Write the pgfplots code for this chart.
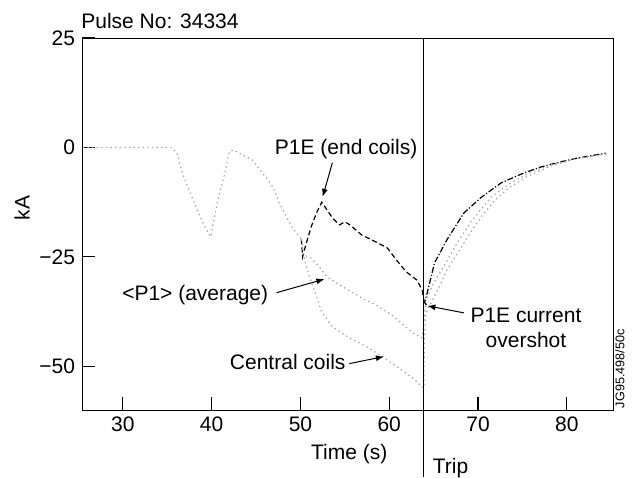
\documentclass[border=0pt]{standalone}
\usepackage{fontspec}
\setmainfont{Liberation Sans}
\usepackage{pgfplots}
\pgfplotsset{compat=1.18}
\usetikzlibrary{arrows.meta}
\begin{document}
\begin{tikzpicture}
\path[use as bounding box] (-41pt,-33.5pt) rectangle (275pt,205pt);
\begin{axis}[
  at={(0pt,0pt)}, anchor=south west,
  scale only axis, width=265.5pt, height=186pt,
  xmin=25.4, xmax=85.2, ymin=-60, ymax=25,
  xtick={30,40,50,60,70,80}, ytick={-50,-25,0,25},
  yticklabels={−50,−25,0,25},
  tick pos=left, tick align=inside, major tick length=6.5pt,
  tick style={black, line width=0.6pt},
  axis line style={line width=0.5pt},
  /pgf/number format/assume math mode=true,
  tick label style={font=\fontsize{10.5}{12}\selectfont},
  ylabel={kA},
  ylabel style={at={(axis description cs:-0.113,0.543)}, anchor=center, font=\fontsize{10.5}{12}\selectfont},
  clip=false,
]
% common part
\addplot[gray!70, dash pattern=on 0.7pt off 1.6pt, line width=0.6pt] coordinates {
(25.5,0) (35.4,0) (36.1,-1.3) (36.7,-5.8) (37.5,-10) (38.4,-14.3) (39.0,-17.2) (39.6,-19.5) (39.9,-20.4) (40.1,-18.2) (40.7,-12) (41.5,-5.8) (42.0,-1.0) (42.4,-0.6) (43.1,-1.3) (44.6,-2.9) (45.7,-5.8) (46.9,-9) (47.6,-12.7) (48.5,-16.1) (49.1,-18.4) (50.1,-21)};
% P1E before trip
\addplot[black, dash pattern=on 2.5pt off 1.5pt, line width=0.6pt] coordinates {
(50.1,-21) (50.25,-25) (50.5,-23) (51.2,-18.2) (51.8,-15) (52.4,-12.5) (53.0,-14.3) (53.6,-16.1) (54.4,-17.7) (55.0,-17.0) (55.5,-17.6) (56.9,-20) (58.5,-21.6) (59.8,-23) (60.8,-25.7) (61.9,-28.4) (63.1,-30.3) (63.7,-32.5) (63.9,-35) (64.2,-36)};
% P1E after trip
\addplot[black, dash pattern=on 3pt off 1pt on 0.6pt off 1pt, line width=0.6pt] coordinates {
(64.2,-36) (64.0,-35.5) (64.3,-33) (65.1,-26.4) (66.5,-21.1) (68.4,-15) (70.3,-11.5) (72.6,-8.1) (75.2,-5.8) (77.2,-4.4) (79.5,-3.2) (81.3,-2.4) (84.4,-1.3)};
% average
\addplot[gray!70, dash pattern=on 0.7pt off 1.6pt, line width=0.6pt] coordinates {
(50.1,-21) (50.3,-24.5) (51.2,-25.3) (52.0,-27) (53.0,-29.6) (54.9,-32) (56.9,-34.4) (58.5,-36) (60.3,-38.3) (62.6,-42.3) (63.7,-43.5) (63.9,-40) (64.1,-35) (65.0,-31) (66.2,-27) (67.6,-22) (69.2,-17) (71.5,-11.3) (73.7,-8.1) (76,-5.6) (78.5,-3.8) (81.5,-2.4) (84.5,-1.4)};
% central coils
\addplot[gray!70, dash pattern=on 0.7pt off 1.6pt, line width=0.6pt] coordinates {
(50.1,-21) (50.4,-25) (51.0,-29.5) (51.8,-34.1) (52.4,-37.6) (53.6,-41) (55.5,-43.5) (57.5,-45.6) (59.2,-47.8) (60.8,-50) (62.6,-52.6) (63.6,-54.5) (63.9,-55) (63.95,-45) (64.1,-38) (65.6,-32) (66.5,-28) (67.9,-23.5) (69.3,-19) (70.3,-16) (71.8,-12.3) (73.5,-9.2) (75.5,-6.7) (78,-4.4) (81,-2.6) (84.5,-1.5)};
% trip line
\addplot[black, line width=0.7pt] coordinates {(63.85,25) (63.85,-75.3)};
% annotations
\node[anchor=base west, inner sep=0pt, font=\fontsize{10.5}{12}\selectfont] at (axis cs:63.85,-60) [xshift=4.5pt, yshift=-31.5pt] {Trip};
\node[anchor=base west, inner sep=0pt, font=\fontsize{10.5}{12}\selectfont] at (rel axis cs:0,1) [xshift=-0.5pt, yshift=5pt] {Pulse No: 34334};
\node[anchor=base, inner sep=0pt, font=\fontsize{10.5}{12}\selectfont] at (axis cs:55.5,-60) [yshift=-25pt] {Time (s)};
\node[anchor=base west, inner sep=0pt, font=\fontsize{10.5}{12}\selectfont] at (axis cs:47.08,-1.71) {P1E (end coils)};
\node[anchor=base west, inner sep=0pt, font=\fontsize{10.5}{12}\selectfont] at (axis cs:29.89,-35.05) {<P1> (average)};
\node[anchor=base west, inner sep=0pt, font=\fontsize{10.5}{12}\selectfont] at (axis cs:42.02,-50.8) {Central coils};
\node[anchor=base, inner sep=0pt, font=\fontsize{10.5}{12}\selectfont] at (axis cs:75.4,-40.1) {P1E current};
\node[anchor=base, inner sep=0pt, font=\fontsize{10.5}{12}\selectfont] at (axis cs:75.4,-45.8) {overshot};
\node[rotate=90, anchor=center, inner sep=0pt, font=\fontsize{6.3}{7}\selectfont] at (axis cs:85.96,-50.6) {JG95.498/50c};
\draw[-{Latex[length=4pt,width=3pt]}, line width=0.5pt] (axis cs:53.6,-3.5) -- (axis cs:52.5,-11.3);
\draw[-{Latex[length=4pt,width=3pt]}, line width=0.5pt] (axis cs:47.3,-33.2) -- (axis cs:52.7,-30.1);
\draw[-{Latex[length=4pt,width=3pt]}, line width=0.5pt] (axis cs:55.5,-49.4) -- (axis cs:59.4,-47.8);
\draw[-{Latex[length=4pt,width=3pt]}, line width=0.5pt] (axis cs:68.4,-37.8) -- (axis cs:64.3,-36.2);
\end{axis}
\end{tikzpicture}
\end{document}
